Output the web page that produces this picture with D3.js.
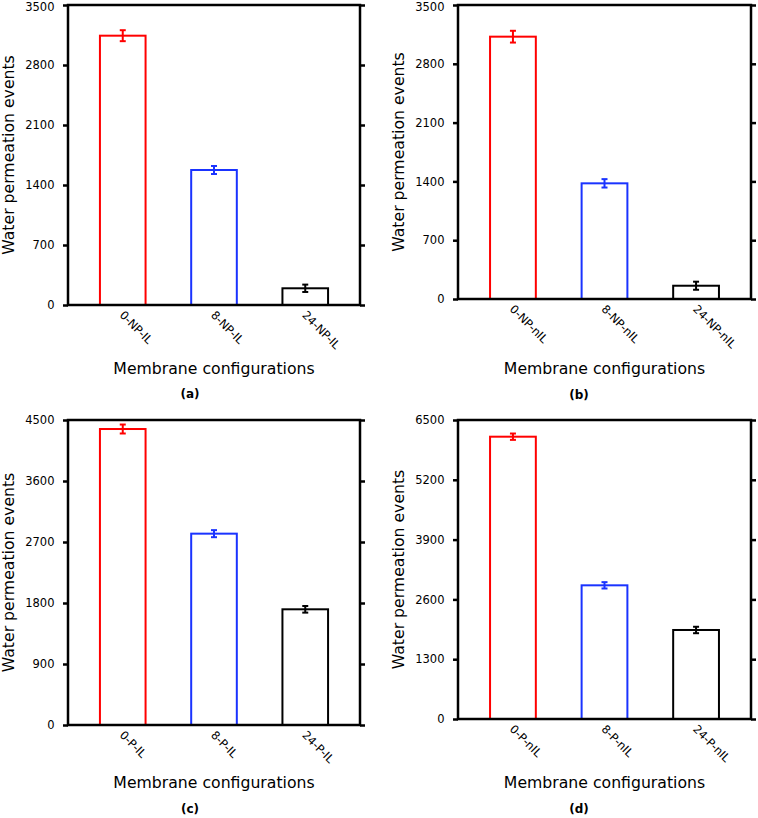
<!DOCTYPE html>
<html><head><meta charset="utf-8">
<script src="https://cdn.jsdelivr.net/npm/d3@7"></script>
<style>body{margin:0;background:#fff}svg{display:block;font-family:"DejaVu Sans",sans-serif}</style>
</head><body>
<script>
const colors = ["#ff0000", "#1a33ff", "#000000"];

const labelsA = ["0-NP-IL", "8-NP-IL", "24-NP-IL"];
const valuesA = [3142, 1575, 195];
const errorsA = [64, 47, 43];
const ticksA = [0, 700, 1400, 2100, 2800, 3500];

const labelsB = ["0-NP-nIL", "8-NP-nIL", "24-NP-nIL"];
const valuesB = [3123, 1377, 158];
const errorsB = [70, 50, 48];
const ticksB = [0, 700, 1400, 2100, 2800, 3500];

const labelsC = ["0-P-IL", "8-P-IL", "24-P-IL"];
const valuesC = [4367, 2823, 1707];
const errorsC = [66, 52, 49];
const ticksC = [0, 900, 1800, 2700, 3600, 4500];

const labelsD = ["0-P-nIL", "8-P-nIL", "24-P-nIL"];
const valuesD = [6137, 2906, 1935];
const errorsD = [69, 69, 70];
const ticksD = [0, 1300, 2600, 3900, 5200, 6500];

const yTitle = "Water permeation events";
const xTitle = "Membrane configurations";
const captions = ["(a)", "(b)", "(c)", "(d)"];

const svg = d3.select("body").append("svg").attr("width", 758).attr("height", 818);

const layouts = [
  {l: 68, r: 360, t: 5, b: 305, yt: 8.5, xt: 368.5, cx: 190, cy: 394},
  {l: 458, r: 751, t: 5, b: 299, yt: 398, xt: 368.5, cx: 579, cy: 395},
  {l: 68, r: 360, t: 420, b: 725, yt: 8.5, xt: 782.5, cx: 190, cy: 809},
  {l: 458, r: 751, t: 420, b: 719, yt: 398, xt: 782.5, cx: 579, cy: 809}
];
const panelData = [
  [labelsA, valuesA, errorsA, ticksA],
  [labelsB, valuesB, errorsB, ticksB],
  [labelsC, valuesC, errorsC, ticksC],
  [labelsD, valuesD, errorsD, ticksD]
];

panelData.forEach(([labels, values, errors, ticks], i) => {
  const L = layouts[i];
  const g = svg.append("g");
  const x = d3.scaleLinear().domain([-0.6, 2.6]).range([L.l, L.r]);
  const y = d3.scaleLinear().domain([0, ticks[ticks.length - 1]]).range([L.b, L.t]);
  const bw = x(0.5) - x(0);

  // bars
  g.selectAll("rect.bar").data(values).join("rect")
    .attr("x", (d, j) => x(j) - bw / 2)
    .attr("y", d => y(d))
    .attr("width", bw)
    .attr("height", d => y(0) - y(d))
    .attr("fill", "none")
    .attr("stroke", (d, j) => colors[j])
    .attr("stroke-width", 2);

  // error bars
  values.forEach((v, j) => {
    const cxp = x(j);
    const eg = g.append("g").attr("stroke", colors[j]).attr("stroke-width", 2);
    eg.append("line").attr("x1", cxp).attr("x2", cxp).attr("y1", y(v - errors[j])).attr("y2", y(v + errors[j]));
    [v - errors[j], v + errors[j]].forEach(e =>
      eg.append("line").attr("x1", cxp - 3).attr("x2", cxp + 3).attr("y1", y(e)).attr("y2", y(e)));
  });

  // left axis
  const la = g.append("g").attr("transform", `translate(${L.l},0)`)
    .call(d3.axisLeft(y).tickValues(ticks).tickSize(5).tickPadding(8.5).tickFormat(d3.format("d")));
  la.select(".domain").remove();
  la.selectAll("line").attr("stroke-width", 2.5);
  la.selectAll("text").attr("font-size", 11.5).attr("font-family", "DejaVu Sans").attr("fill", "#000")
    .attr("dy", (d, k) => L.t < 10 && k === ticks.length - 1 ? "0.45em" : "0.32em");

  // right axis ticks
  const ra = g.append("g").attr("transform", `translate(${L.r},0)`)
    .call(d3.axisRight(y).tickValues(ticks).tickSize(5).tickFormat(""));
  ra.select(".domain").remove();
  ra.selectAll("line").attr("stroke-width", 2.5);

  // frame
  g.append("rect").attr("x", L.l).attr("y", L.t).attr("width", L.r - L.l).attr("height", L.b - L.t)
    .attr("fill", "none").attr("stroke", "#000").attr("stroke-width", 2.5);

  // x tick labels
  g.selectAll("text.xl").data(labels).join("text")
    .attr("class", "xl")
    .attr("transform", (d, j) => `translate(${x(j) - 1},${L.b + 8}) rotate(45)`)
    .attr("dy", "0.35em")
    .attr("font-size", 11.5)
    .attr("text-anchor", "start")
    .text(d => d);

  // titles
  g.append("text")
    .attr("transform", `translate(${L.yt},${(L.t + L.b) / 2}) rotate(-90)`)
    .attr("text-anchor", "middle").attr("dy", "0.35em")
    .attr("font-size", 15.7).text(yTitle);
  g.append("text")
    .attr("x", (L.l + L.r) / 2).attr("y", L.xt).attr("dy", "0.35em")
    .attr("text-anchor", "middle").attr("font-size", 15.7).text(xTitle);
  g.append("text")
    .attr("x", L.cx).attr("y", L.cy).attr("dy", "0.35em")
    .attr("text-anchor", "middle").attr("font-size", 12).attr("font-weight", "bold")
    .text(captions[i]);
});
</script>
</body></html>
